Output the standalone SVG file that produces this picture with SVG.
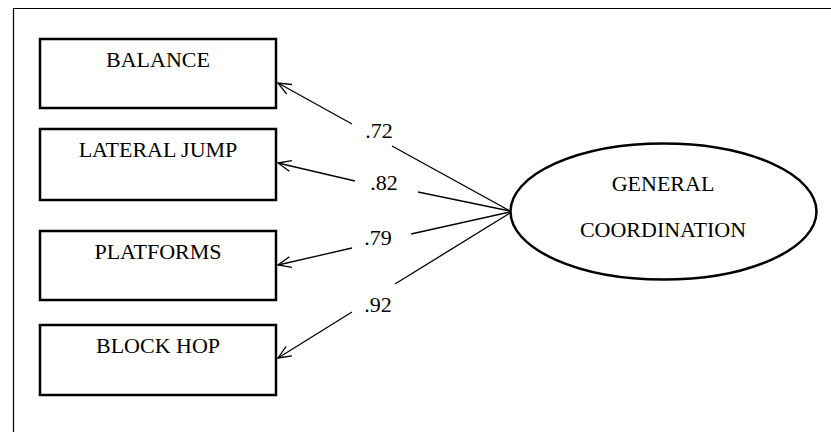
<svg xmlns="http://www.w3.org/2000/svg" width="831" height="432" viewBox="0 0 831 432">
<defs>
<marker id="arr" viewBox="-14 -7 15 14" refX="0" refY="0" markerWidth="15" markerHeight="14" markerUnits="userSpaceOnUse" orient="auto">
<path d="M-13,-5.5 L0,0 L-13,5.5" fill="none" stroke="#000" stroke-width="1.3"/>
</marker>
</defs>
<style>
.box{fill:#fff;stroke:#000;stroke-width:2.5}
.lbl{font-family:"Liberation Serif","Times New Roman",serif;font-size:22px;fill:#000;text-anchor:middle}
.num{font-family:"Liberation Serif","Times New Roman",serif;font-size:22px;fill:#000;text-anchor:middle}
.con{stroke:#000;stroke-width:1.3;fill:none}
</style>
<rect width="831" height="432" fill="#fff"/>
<path d="M13.5,432 L13.5,8.5 L831,8.5" fill="none" stroke="#000" stroke-width="1.2"/>
<g id="balance"><rect class="box" x="40" y="39" width="236" height="69"/><text class="lbl" x="158" y="67">BALANCE</text></g>
<g id="lateral"><rect class="box" x="40" y="129" width="236" height="71"/><text class="lbl" x="158" y="157">LATERAL JUMP</text></g>
<g id="platforms"><rect class="box" x="40" y="231" width="236" height="69"/><text class="lbl" x="158" y="259">PLATFORMS</text></g>
<g id="blockhop"><rect class="box" x="40" y="325" width="236" height="70"/><text class="lbl" x="158" y="353">BLOCK HOP</text></g>
<g id="general"><ellipse cx="663.5" cy="211.5" rx="153" ry="68" fill="#fff" stroke="#000" stroke-width="2.5"/>
<text class="lbl" x="663" y="191">GENERAL</text><text class="lbl" x="663" y="237">COORDINATION</text></g>
<g id="connectors">
<line class="con" x1="352" y1="124" x2="278" y2="83" marker-end="url(#arr)"/>
<line class="con" x1="392" y1="146" x2="510" y2="211"/>
<line class="con" x1="355" y1="181" x2="278" y2="163" marker-end="url(#arr)"/>
<line class="con" x1="418" y1="192" x2="510" y2="211"/>
<line class="con" x1="352" y1="248" x2="278" y2="265" marker-end="url(#arr)"/>
<line class="con" x1="411" y1="234" x2="510" y2="212"/>
<line class="con" x1="352" y1="312" x2="278" y2="358" marker-end="url(#arr)"/>
<line class="con" x1="395" y1="284" x2="510" y2="213"/>
<text class="num" x="379" y="138">.72</text>
<text class="num" x="384" y="190">.82</text>
<text class="num" x="378" y="245">.79</text>
<text class="num" x="378" y="312">.92</text>
</g>
</svg>
